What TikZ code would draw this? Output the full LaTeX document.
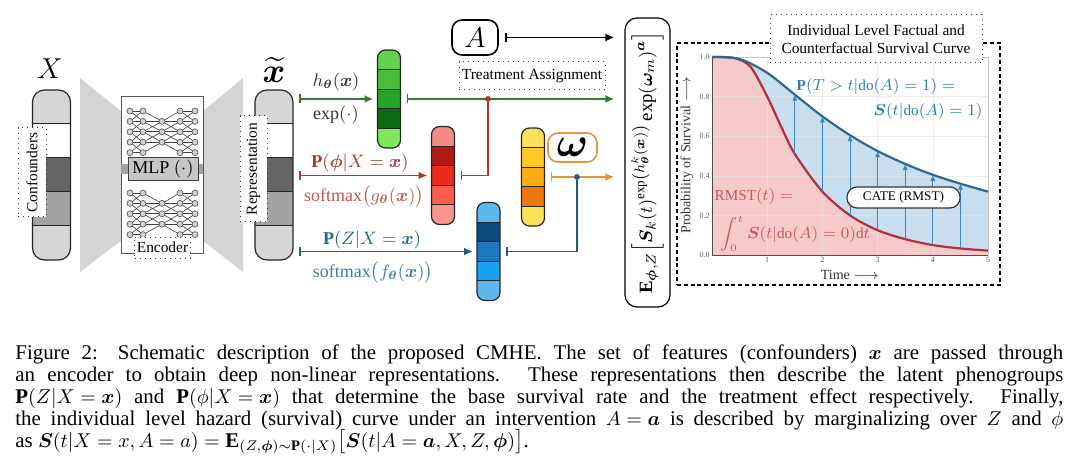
\documentclass[tikz,border=0pt]{standalone}
\usepackage{amsmath}
\usepackage{bm}
\usepackage{fontspec}
\setmainfont{Liberation Serif}
\usetikzlibrary{positioning, arrows.meta, calc}

% colours of the bars
\definecolor{barLight}{HTML}{D6D6D6}
\definecolor{barDark}{HTML}{656565}
\definecolor{barMid}{HTML}{A3A3A3}
\definecolor{greenA}{HTML}{5FD14B}
\definecolor{greenB}{HTML}{45BE36}
\definecolor{greenC}{HTML}{26A427}
\definecolor{greenD}{HTML}{0C6B12}
\definecolor{greenE}{HTML}{7EE85D}
\definecolor{redA}{HTML}{F28B82}
\definecolor{redB}{HTML}{B31B12}
\definecolor{redC}{HTML}{EE2A1B}
\definecolor{redD}{HTML}{FB5E4C}
\definecolor{redE}{HTML}{F7948B}
\definecolor{blueA}{HTML}{5BB9F2}
\definecolor{blueB}{HTML}{0B4B7A}
\definecolor{blueC}{HTML}{1B77BF}
\definecolor{blueD}{HTML}{1AA3F2}
\definecolor{blueE}{HTML}{5DB8EE}
\definecolor{yellowA}{HTML}{FFE05A}
\definecolor{yellowB}{HTML}{FFC925}
\definecolor{yellowC}{HTML}{FFAB12}
\definecolor{yellowD}{HTML}{EE7611}
\definecolor{yellowE}{HTML}{FFE15A}
% colours of the lines and labels
\definecolor{lineGreen}{HTML}{2E7D32}
\definecolor{lineRed}{HTML}{B5382B}
\definecolor{lineBlue}{HTML}{1F5C8A}
\definecolor{lineOrange}{HTML}{E8923A}
\definecolor{txtRed}{HTML}{A3392C}
\definecolor{txtRedLight}{HTML}{C0584E}
\definecolor{txtBlue}{HTML}{25668F}
\definecolor{txtBlueLight}{HTML}{3A7DA6}
\definecolor{trapGray}{HTML}{D4D4D4}
% colours of the survival plot
\definecolor{curveBlue}{HTML}{2D6A8E}
\definecolor{curveRed}{HTML}{B0303E}
\definecolor{fillRed}{HTML}{F6C9CB}
\definecolor{fillBlue}{HTML}{C8DDEE}
\definecolor{arrowBlue}{HTML}{3A86BF}
\definecolor{labelBlue}{HTML}{2A7FA8}
\definecolor{labelRed}{HTML}{C45A55}

\newcommand{\diagFont}{\fontsize{7.7}{9}\selectfont}
\newcommand{\arrowFont}{\fontsize{9}{10}\selectfont}
\newcommand{\plotFont}{\fontsize{7.6}{9}\selectfont}
\newcommand{\capFont}{\fontsize{10.45}{11}\selectfont}

\tikzset{
    stripeBar/.style n args={5}{draw=black!85, line width=0.6pt, inner sep=0pt, outer sep=0pt,
        path picture={
            \foreach \fillCol [count=\i from 0] in {#1,#2,#3,#4,#5} {
                \pgfmathsetmacro\fracTop{\i/5}
                \pgfmathsetmacro\fracBot{(\i+1)/5}
                \fill[\fillCol, sharp corners] ($(path picture bounding box.north west)!\fracTop!(path picture bounding box.south west)$) rectangle ($(path picture bounding box.north east)!\fracBot!(path picture bounding box.south east)$);
            }
            \foreach \i in {1,...,4}
                \draw[black!85, line width=0.5pt, sharp corners] ($(path picture bounding box.north west)!\i/5!(path picture bounding box.south west)$) -- ($(path picture bounding box.north east)!\i/5!(path picture bounding box.south east)$);
        }},
    grayBar/.style={stripeBar={barLight}{white}{barDark}{barMid}{barLight}, minimum width=19pt, minimum height=85pt, rounded corners=6pt},
    colBar/.style={minimum width=11.5pt, minimum height=49pt, rounded corners=4pt},
    tagBox/.style={draw=black!80, dotted, line width=0.5pt, fill=white, inner sep=1pt, outer sep=0pt, font=\diagFont},
    neuron/.style={circle, draw=gray!60!black, fill=gray!35, line width=0.3pt, inner sep=0pt, minimum size=3pt},
    synapse/.style={gray!50!black, line width=0.3pt},
    flowArrow/.style={line width=0.9pt, {Bar[width=4.5pt, line width=0.9pt]}-{Latex[length=4.5pt, width=4pt]}, shorten <=3pt, shorten >=2pt},
    toEBox/.style={flowArrow, shorten >=5pt},
    feedLine/.style={line width=0.9pt, {Bar[width=4.5pt, line width=0.9pt]}-, shorten <=3pt},
    joinDot/.style={circle, inner sep=0pt, minimum size=2.8pt},
    tickLbl/.style={font=\fontsize{4}{4}\selectfont, text=gray!70!black, inner sep=1pt}
}

\begin{document}
\begin{tikzpicture}[x=0.5pt, y=-0.5pt]
    \useasboundingbox (0,0) rectangle (1080,470);

    %%% Encoder part
        % Grey funnel on both sides of the MLP
        \fill[trapGray] (80,78) -- (122,112) -- (122,240) -- (80,272) -- cycle; % left side
        \fill[trapGray] (243,78) -- (202,112) -- (202,240) -- (243,272) -- cycle; % right side

        % Input and representation bars
        \node[grayBar] (xBar) at (51.5,175) {};
        \node[grayBar] (repBar) at (274,175) {};
        \node[font=\fontsize{14}{14}\selectfont, inner sep=0pt] (xLabel) at (50,69) {$X$};
        \node[font=\fontsize{16}{16}\selectfont, inner sep=0pt] (repLabel) at (274,70) {$\widetilde{\boldsymbol{x}}$};
        \node[tagBox, minimum width=14pt, minimum height=44.5pt] (confBox) at (32,172.5) {\rotatebox{90}{Confounders}};
        \node[tagBox, minimum width=13.5pt, minimum height=53pt] (repBox) at (253.5,169) {\rotatebox{90}{Representation}};

        % MLP box with its two small networks
        \node[draw=gray!70!black, fill=white, line width=0.5pt, minimum width=41pt, minimum height=78pt, inner sep=0pt] (mlpBox) at (162,175) {};
        \node[fill=barMid, minimum width=41pt, minimum height=5pt, inner sep=0pt] (mlpBand) at (162,169) {};

        \foreach \netK/\netTop in {1/111, 2/193} {
            \foreach \col/\colX in {1/130, 2/143, 3/162, 4/180, 5/195} {
                \foreach \row in {1,...,5}
                    \coordinate (n\netK-\col-\row) at (\colX, \netTop+10.4*\row-10.4);
            }
        }
        \foreach \netK in {1,2} {
            \foreach \col in {1,...,4} {
                \foreach \row in {1,...,5} {
                    \foreach \dr in {-1,0,1} {
                        \pgfmathtruncatemacro\nextCol{\col+1}
                        \pgfmathtruncatemacro\nextRow{\row+\dr}
                        \pgfmathtruncatemacro\useEdge{(\nextRow>0)*(\nextRow<6)*(1-(\col==3)*((\row==1)+(\row==5)))*(1-(\nextCol==3)*((\nextRow==1)+(\nextRow==5)))}
                        \ifnum\useEdge=1
                            \draw[synapse] (n\netK-\col-\row) -- (n\netK-\nextCol-\nextRow);
                        \fi
                    }
                }
            }
        }
        \foreach \netK in {1,2} {
            \foreach \col in {1,...,5} {
                \foreach \row in {1,...,5} {
                    \pgfmathtruncatemacro\useNode{1-(\col==3)*((\row==1)+(\row==5))}
                    \ifnum\useNode=1
                        \node[neuron] (u\netK-\col-\row) at (n\netK-\col-\row) {};
                    \fi
                }
            }
        }

        \node[draw=black!75, fill=gray!45, line width=0.5pt, minimum width=35pt, minimum height=11.5pt, inner sep=0pt, font=\fontsize{9}{9}\selectfont] (mlpLabel) at (163,169) {MLP $(\cdot)$};
        \node[tagBox, minimum width=27.5pt, minimum height=10.5pt] (encBox) at (162.5,247.5) {Encoder};

    %%% Phenogroup heads
        % Coloured bars
        \node[colBar, stripeBar={greenA}{greenB}{greenC}{greenD}{greenE}] (greenBar) at (389,99) {};
        \node[colBar, stripeBar={redA}{redB}{redC}{redD}{redE}] (redBar) at (443,175.5) {};
        \node[colBar, stripeBar={blueA}{blueB}{blueC}{blueD}{blueE}] (blueBar) at (488.5,251.5) {};
        \node[colBar, stripeBar={yellowA}{yellowB}{yellowC}{yellowD}{yellowE}] (yellowBar) at (533,177) {};

        % Arrows out of the representation
        \draw[flowArrow, lineGreen] (repBar.east |- greenBar.west) -- (greenBar.west);
        \draw[flowArrow, lineRed] (repBar.east |- redBar.west) -- (redBar.west);
        \draw[flowArrow, lineBlue] (repBar.east |- blueBar.west) -- (blueBar.west);

        % Labels of the arrows
        \node[text=black!80, font=\arrowFont] (hLabel) at (336,82) {$h_{\boldsymbol{\theta}}(\boldsymbol{x})$};
        \node[text=black!80, font=\arrowFont] (expLabel) at (336,115) {$\exp(\cdot)$};
        \node[text=txtRed, font=\arrowFont] (phiLabel) at (360,163) {$\mathbf{P}(\boldsymbol{\phi}|X=\boldsymbol{x})$};
        \node[text=txtRedLight, font=\arrowFont] (gLabel) at (364,197) {$\mathrm{softmax}\big(g_{\boldsymbol{\theta}}(\boldsymbol{x})\big)$};
        \node[text=txtBlue, font=\arrowFont] (zLabel) at (372,240) {$\mathbf{P}(Z|X=\boldsymbol{x})$};
        \node[text=txtBlueLight, font=\arrowFont] (fLabel) at (373,273) {$\mathrm{softmax}\big(f_{\boldsymbol{\theta}}(\boldsymbol{x})\big)$};

    %%% Treatment and outcome
        \node[draw, rounded corners=5pt, line width=0.8pt, minimum width=23pt, minimum height=17.5pt, inner sep=0pt, font=\fontsize{15}{15}\selectfont] (aBox) at (475,37.5) {$A$};
        \node[tagBox, minimum width=73pt, minimum height=14pt] (treatBox) at (532,76) {Treatment Assignment};
        \node[draw=lineOrange, rounded corners=5pt, line width=0.8pt, fill=white, minimum width=24.5pt, minimum height=14.5pt, inner sep=0pt, font=\fontsize{20}{20}\selectfont] (omegaBox) at (572.5,147.5) {$\boldsymbol{\omega}$};
        \node[draw, rounded corners=6pt, line width=0.6pt, minimum width=22.5pt, minimum height=144.5pt, inner sep=0pt, font=\fontsize{9.4}{10}\selectfont] (eBox) at (647.5,162.5)
            {\rotatebox{90}{$\mathbf{E}_{\boldsymbol{\phi},Z}\Big[\boldsymbol{S}_k(t)^{\exp\left(h^k_{\boldsymbol{\theta}}(\boldsymbol{x})\right)}\exp(\boldsymbol{\omega}_m)^{\boldsymbol{a}}\Big]$}};

        % Junction points
        \node[joinDot, fill=lineRed] (gJoin) at (488,99) {};
        \node[joinDot, fill=lineBlue] (oJoin) at (577,177) {};

        % Lines into the outcome box
        \draw[toEBox, black] (aBox.east) -- (aBox.east -| eBox.west);
        \draw[toEBox, lineGreen] (greenBar.east) -- (greenBar.east -| eBox.west);
        \draw[toEBox, lineOrange] (yellowBar.east) -- (yellowBar.east -| eBox.west);
        \draw[feedLine, lineRed] (redBar.east) -| (gJoin);
        \draw[feedLine, lineBlue] (blueBar.east) -| (oJoin);
        \node[joinDot, fill=lineRed] at (gJoin) {};
        \node[joinDot, fill=lineBlue] at (oJoin) {};

    %%% Survival curves
        \node[draw, dash pattern=on 2pt off 1.4pt, line width=1.3pt, minimum width=161.5pt, minimum height=121pt, inner sep=0pt] (plotFrame) at (838.5,164) {};

        \begin{scope}[shift={(712,255)}, x=27.6pt, y=99pt]
            % Areas under the curves
            \fill[fillRed] (0,0) -- plot[smooth] coordinates {(0,1) (0.4,0.995) (0.7,0.95) (1,0.80) (1.25,0.65) (1.5,0.51) (2,0.32) (2.5,0.20) (3,0.125) (3.5,0.08) (4,0.05) (4.5,0.033) (5,0.022)} -- (5,0) -- cycle;
            \fill[fillBlue] plot[smooth] coordinates {(0,1) (0.5,0.99) (1,0.92) (1.5,0.81) (2,0.70) (2.5,0.605) (3,0.525) (3.5,0.46) (4,0.405) (4.5,0.36) (5,0.32)} -- plot[smooth] coordinates {(5,0.022) (4.5,0.033) (4,0.05) (3.5,0.08) (3,0.125) (2.5,0.20) (2,0.32) (1.5,0.51) (1.25,0.65) (1,0.80) (0.7,0.95) (0.4,0.995) (0,1)} -- cycle;

            % Grid and axes
            \foreach \t in {1,...,5}
                \draw[white!80!gray, line width=0.3pt, opacity=0.7] (\t,0) -- (\t,1);
            \foreach \v in {0.2,0.4,0.6,0.8}
                \draw[white!80!gray, line width=0.3pt, opacity=0.7] (0,\v) -- (5,\v);
            \draw[gray!45, line width=0.3pt] (0,1) -- (5,1) -- (5,0);
            \draw[gray!60!black, line width=0.4pt] (0,1) -- (0,0) -- (5,0);
            \foreach \t in {1,...,5}
                \node[tickLbl, below] (xTick\t) at (\t,0) {\t};
            \foreach \v in {0.0,0.2,0.4,0.6,0.8,1.0}
                \node[tickLbl, left] (yTick\v) at (0,\v) {\v};

            % Curves
            \draw[curveRed, line width=1.1pt] plot[smooth] coordinates {(0,1) (0.4,0.995) (0.7,0.95) (1,0.80) (1.25,0.65) (1.5,0.51) (2,0.32) (2.5,0.20) (3,0.125) (3.5,0.08) (4,0.05) (4.5,0.033) (5,0.022)};
            \draw[curveBlue, line width=1.1pt] plot[smooth] coordinates {(0,1) (0.5,0.99) (1,0.92) (1.5,0.81) (2,0.70) (2.5,0.605) (3,0.525) (3.5,0.46) (4,0.405) (4.5,0.36) (5,0.32)};

            % Gaps between the curves
            \foreach \t/\lo/\hi in {1.5/0.51/0.81, 2/0.32/0.70, 2.5/0.20/0.605, 3/0.125/0.525, 3.5/0.08/0.46, 4/0.05/0.405, 4.5/0.033/0.36}
                \draw[arrowBlue, line width=0.5pt, -{Latex[length=3pt, width=2.6pt]}] (\t,\lo) -- (\t,\hi);
        \end{scope}

        % Axis titles
        \node[rotate=90, font=\fontsize{7}{7}\selectfont, text=black!80] (yTitle) at (687,155) {Probability of Survival $\longrightarrow$};
        \node[font=\fontsize{7}{7}\selectfont, text=black!80] (xTitle) at (850,275) {Time $\longrightarrow$};

        % Texts in the plot
        \node[text=labelBlue, font=\plotFont] (survOne) at (876,87) {$\mathbf{P}(T>t|\mathrm{do}(A)=1)=$};
        \node[text=labelBlue, font=\plotFont] (survTwo) at (928,112) {$\boldsymbol{S}(t|\mathrm{do}(A)=1)$};
        \node[text=labelRed, font=\plotFont] (rmstOne) at (754,197) {$\mathrm{RMST}(t)=$};
        \node[text=labelRed, font=\plotFont] (rmstTwo) at (795,234) {$\displaystyle\int_0^t\boldsymbol{S}(t|\mathrm{do}(A)=0)\mathrm{d}t$};
        \node[draw=black!80, fill=white, rounded corners=5pt, line width=0.6pt, minimum width=56.5pt, minimum height=10.5pt, inner sep=0pt, font=\fontsize{6.6}{7}\selectfont] (cateBox) at (903.5,197.5) {CATE (RMST)};

        % Title of the plot
        \node[tagBox, fill=white, minimum width=106pt, minimum height=24pt, align=center] (titleBox) at (876,39) {Individual Level Factual and\\Counterfactual Survival Curve};

    %%% Caption
        \node[anchor=base west, inner sep=0pt, font=\capFont] (capOne) at (15,359) {\makebox[524pt][s]{Figure 2: Schematic description of the proposed CMHE. The set of features (confounders) \mbox{$\boldsymbol{x}$} are passed through}};
        \node[anchor=base west, inner sep=0pt, font=\capFont] (capTwo) at (15,381) {\makebox[524pt][s]{an encoder to obtain deep non-linear representations. These representations then describe the latent phenogroups}};
        \node[anchor=base west, inner sep=0pt, font=\capFont] (capThree) at (15,403) {\makebox[524pt][s]{\mbox{$\mathbf{P}(Z|X=\boldsymbol{x})$} and \mbox{$\mathbf{P}(\phi|X=\boldsymbol{x})$} that determine the base survival rate and the treatment effect respectively. Finally,}};
        \node[anchor=base west, inner sep=0pt, font=\capFont] (capFour) at (15,425) {\makebox[524pt][s]{the individual level hazard (survival) curve under an intervention \mbox{$A=\boldsymbol{a}$} is described by marginalizing over \mbox{$Z$} and \mbox{$\phi$}}};
        \node[anchor=base west, inner sep=0pt, font=\capFont] (capFive) at (15,447) {as $\boldsymbol{S}(t|X=x,A=a)=\mathbf{E}_{(Z,\boldsymbol{\phi})\sim\mathbf{P}(\cdot|X)}\big[\boldsymbol{S}(t|A=\boldsymbol{a},X,Z,\boldsymbol{\phi})\big]$.};
\end{tikzpicture}
\end{document}
